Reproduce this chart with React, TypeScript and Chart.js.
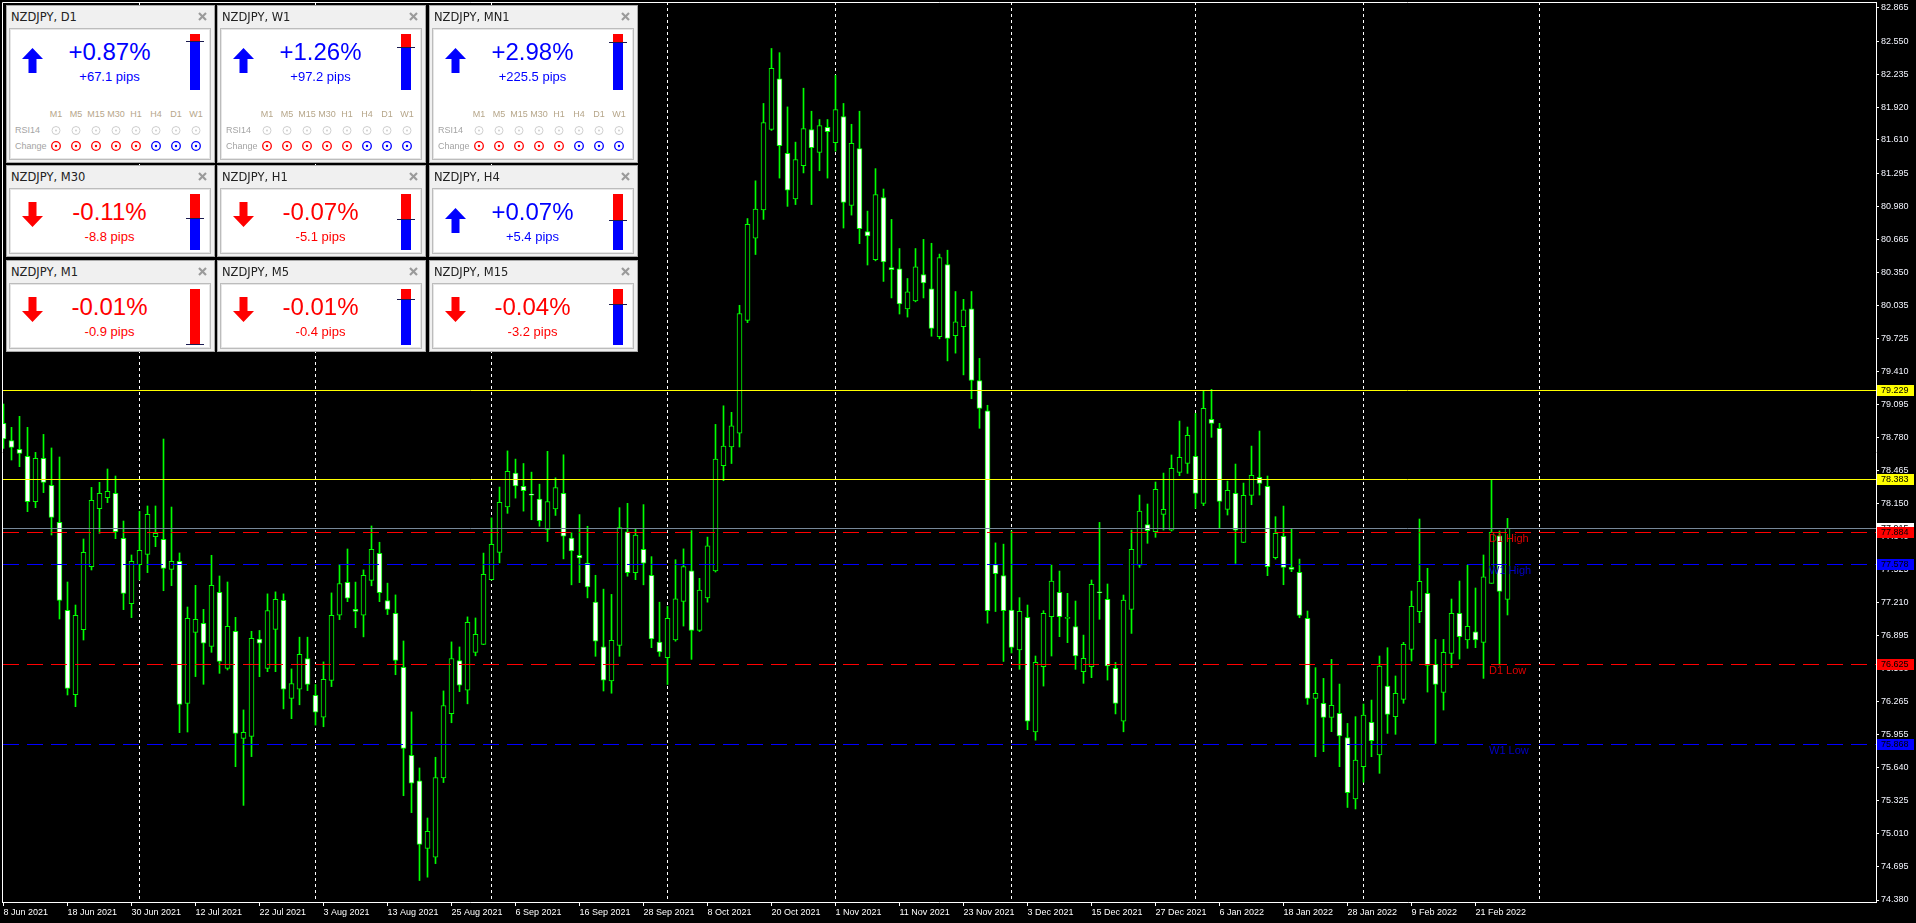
import React, { useEffect, useRef } from "react";
import { Chart, registerables } from "chart.js";
Chart.register(...registerables);

// ---------- DATA ----------
const xLabels = ["8 Jun 2021","18 Jun 2021","30 Jun 2021","12 Jul 2021","22 Jul 2021","3 Aug 2021","13 Aug 2021","25 Aug 2021","6 Sep 2021","16 Sep 2021","28 Sep 2021","8 Oct 2021","20 Oct 2021","1 Nov 2021","11 Nov 2021","23 Nov 2021","3 Dec 2021","15 Dec 2021","27 Dec 2021","6 Jan 2022","18 Jan 2022","28 Jan 2022","9 Feb 2022","21 Feb 2022"];
const xLabelBars = [0,8,16,24,32,40,48,56,64,72,80,88,96,104,112,120,128,136,144,152,160,168,176,184];
const monthStartBars = [17,39,61,83,104,126,149,170,192];

const opens = [78.914,78.749,78.667,78.600,78.169,78.581,78.324,77.972,77.135,76.333,
76.952,77.551,78.102,78.207,78.248,77.820,77.199,77.570,77.668,77.836,
77.811,77.525,77.602,76.251,76.926,77.012,76.793,77.307,76.584,76.936,
75.918,75.937,76.861,76.584,76.954,77.230,76.298,76.385,76.677,76.327,
76.118,76.468,77.089,77.401,77.144,77.089,77.420,77.677,77.227,77.108,
76.594,75.755,75.513,74.870,74.787,75.542,76.153,76.658,76.375,76.735,
76.812,77.427,77.687,78.120,78.442,78.314,78.236,78.194,77.906,78.100,
78.248,77.823,77.658,77.584,77.213,76.788,76.463,76.801,77.881,77.493,
77.716,77.469,76.834,76.685,76.854,77.221,77.510,76.945,77.254,77.510,
78.512,78.689,78.821,79.893,80.676,80.945,81.709,82.192,81.482,81.048,
81.366,81.709,81.490,81.730,81.585,81.833,80.986,81.527,80.739,80.470,
81.061,80.396,80.383,80.003,80.078,80.330,80.193,79.739,80.425,79.747,
79.834,80.003,79.322,79.033,77.570,77.467,77.138,76.758,77.069,75.980,
76.599,77.075,77.306,77.059,76.980,76.552,76.599,77.306,77.240,76.583,
76.080,77.145,77.566,77.950,77.883,78.048,77.899,78.448,78.533,78.600,
78.153,78.952,78.866,78.096,78.248,77.782,78.229,78.400,78.315,77.636,
77.839,77.544,77.497,77.059,76.298,76.250,76.117,76.155,75.924,75.341,
75.648,76.070,75.759,76.415,76.124,76.289,76.764,77.122,77.297,76.621,
76.355,76.726,77.107,76.853,76.932,76.831,77.392,77.845,77.240];

const highs = [79.098,78.876,78.981,78.876,78.638,78.809,78.680,78.594,77.405,77.186,
77.814,78.305,78.353,78.480,78.413,77.985,77.662,78.077,78.128,78.128,
78.765,78.118,77.681,77.167,77.373,77.145,77.659,77.462,77.405,77.069,
76.188,76.936,76.944,77.292,77.311,77.292,76.578,76.880,76.880,76.430,
76.645,77.301,77.571,77.719,77.404,77.520,77.938,77.783,77.394,77.282,
76.844,76.169,75.636,75.160,75.738,76.369,76.835,76.787,77.073,77.063,
77.680,78.015,78.308,78.652,78.574,78.532,78.450,78.335,78.648,78.396,
78.615,77.873,78.046,77.935,77.469,77.337,77.287,78.112,78.153,77.914,
78.141,77.646,77.213,77.172,77.617,77.720,77.893,77.440,77.832,78.904,
79.081,79.019,80.037,80.862,81.221,81.957,82.480,82.440,81.924,81.589,
82.102,81.883,81.804,81.804,82.225,81.957,81.759,81.883,80.933,81.337,
81.143,80.854,80.577,80.292,80.577,80.664,80.627,80.524,80.561,80.168,
80.094,80.168,79.532,79.086,77.777,77.765,77.890,77.256,77.186,76.701,
77.132,77.566,77.509,77.297,77.224,76.900,77.424,77.972,77.386,76.640,
77.281,77.899,78.232,78.147,78.356,78.441,78.613,78.936,78.879,79.009,
79.225,79.237,78.914,78.365,78.527,78.346,78.698,78.841,78.413,78.026,
78.127,77.906,77.623,77.129,76.590,76.488,76.669,76.434,76.060,76.124,
76.244,76.282,76.701,76.780,76.511,76.831,77.319,78.004,77.535,76.859,
76.859,77.243,77.414,77.566,77.348,77.662,78.381,77.890,78.010];

const lows = [78.676,78.565,78.502,78.074,78.112,78.255,77.852,77.053,76.330,76.219,
76.853,77.519,77.868,78.160,77.817,77.142,77.066,77.424,77.494,77.741,
77.322,77.370,75.972,75.978,76.505,76.432,76.736,76.536,76.568,75.648,
75.280,75.744,76.504,76.552,76.552,76.198,76.105,76.237,76.372,76.044,
76.028,76.410,77.047,77.218,76.970,76.883,77.369,77.218,77.095,76.523,
75.372,75.211,74.565,74.597,74.726,75.497,76.066,76.362,76.246,76.703,
76.809,77.423,77.587,78.058,78.203,78.079,77.997,77.935,77.790,78.038,
77.625,77.378,77.399,77.254,76.698,76.368,76.347,76.698,77.460,77.427,
77.378,76.780,76.698,76.430,76.842,76.986,76.669,76.933,77.213,77.500,
78.368,78.532,78.689,79.872,80.520,80.854,81.700,81.247,80.978,80.995,
81.296,80.995,81.317,81.247,81.503,80.772,80.895,80.623,80.420,80.460,
80.264,80.107,79.954,79.925,80.070,80.107,79.743,79.718,79.508,79.582,
79.375,79.148,78.867,77.013,77.124,76.649,76.730,76.574,76.000,75.900,
76.415,76.701,76.885,76.828,76.574,76.441,76.495,77.050,76.472,76.150,
75.980,76.916,77.544,77.773,77.830,77.899,77.890,78.416,78.438,78.105,
78.131,78.781,77.912,78.042,77.582,77.779,78.140,78.232,77.465,77.623,
77.379,77.503,77.065,76.241,75.743,75.791,75.981,75.648,75.260,75.246,
75.500,75.743,75.585,75.965,75.956,76.251,76.653,77.018,76.358,75.870,
76.187,76.590,76.672,76.774,76.780,76.488,77.392,76.615,77.091];

const closes = [78.765,78.686,78.629,78.169,78.581,78.353,78.020,77.230,76.393,77.088,
77.687,78.182,78.248,78.267,77.884,77.297,77.602,77.706,78.049,77.868,
77.535,77.602,76.241,77.059,77.050,76.822,77.373,76.650,76.983,75.965,
75.975,76.869,76.822,77.134,77.240,76.385,76.439,76.716,76.430,76.166,
76.478,77.089,77.391,77.250,77.124,77.468,77.716,77.304,77.144,76.658,
75.822,75.491,74.909,75.034,75.545,76.230,76.677,76.423,77.021,76.906,
77.478,77.764,78.163,78.458,78.318,78.273,78.232,77.988,78.170,78.302,
77.840,77.700,77.634,77.358,76.842,76.471,76.850,77.922,77.493,77.852,
77.584,76.863,76.739,77.060,77.246,77.551,76.945,77.329,77.749,78.574,
78.697,78.891,79.959,80.808,80.953,81.775,82.292,81.556,81.131,81.424,
81.717,81.536,81.746,81.689,81.899,81.015,81.577,80.767,80.697,81.090,
80.449,80.375,80.049,80.164,80.404,80.251,79.817,80.491,79.722,79.879,
79.995,79.322,79.057,77.133,77.484,77.133,76.783,77.126,76.080,76.641,
77.107,77.414,77.075,77.069,76.701,76.679,77.382,77.303,76.606,76.250,
77.233,77.716,78.080,77.893,78.286,78.096,78.486,78.590,78.800,78.248,
79.057,78.914,78.172,78.277,77.899,78.229,78.419,78.343,77.550,77.868,
77.544,77.525,77.088,76.298,76.346,76.117,76.232,75.940,75.400,75.712,
76.140,75.895,76.606,76.146,76.346,76.812,77.173,77.411,76.612,76.431,
76.736,77.107,76.885,76.983,76.853,77.455,77.877,77.316,77.915];

const yTickValues = [82.865,82.550,82.235,81.920,81.610,81.295,80.980,80.665,80.350,80.035,79.725,79.410,79.095,78.780,78.465,78.150,77.840,77.525,77.210,76.895,76.580,76.265,75.955,75.640,75.325,75.010,74.695,74.380];

const yellowLevels = [79.229, 78.383];
const bidPrice = 77.915;
const levelNames = ["D1 High", "W1 High", "D1 Low", "W1 Low"];
const levelValues = [77.884, 77.578, 76.625, 75.868];

const panelTf = ["D1","W1","MN1","M30","H1","H4","M1","M5","M15"];
const panelPct = ["+0.87%","+1.26%","+2.98%","-0.11%","-0.07%","+0.07%","-0.01%","-0.01%","-0.04%"];
const panelPips = ["+67.1 pips","+97.2 pips","+225.5 pips","-8.8 pips","-5.1 pips","+5.4 pips","-0.9 pips","-0.4 pips","-3.2 pips"];
const panelRedShare = [0.12,0.24,0.15,0.42,0.44,0.47,1.0,0.17,0.26];
const gridTfs = ["M1","M5","M15","M30","H1","H4","D1","W1"];
const changeUp = [false,false,false,false,false,true,true,true];

// ---------- LAYOUT ----------
const W = 1916, H = 923;
const Y_MIN = 74.361, Y_MAX = 82.922;
const X_MIN = -0.1875, X_MAX = 234.0625;
const panelColX = [6, 217, 429];
const panelRowY = [5, 165, 260];
const panelRowH = [158, 92, 92];
const PANEL_W = 209;
const gridColX = [49, 69, 89, 109, 129, 149, 169, 189];

const levelColor = (name: string) => (name.startsWith("D1") ? "#ff0000" : "#0000ff");
const levelTextColor = (name: string) => (name.startsWith("D1") ? "#e00000" : "#0000c8");

const zeroPadding = (s: any) => {
  s.paddingTop = 0;
  s.paddingBottom = 0;
  s.paddingLeft = 0;
  s.paddingRight = 0;
};

const overlayPlugin = {
  id: "mtOverlay",
  beforeDatasetsDraw(chart: any) {
    const { ctx, chartArea: a, scales } = chart;
    const x = scales.x;
    ctx.save();
    ctx.strokeStyle = "#ffffff";
    ctx.lineWidth = 1;
    ctx.setLineDash([3, 3]);
    for (const b of monthStartBars) {
      const px = Math.floor(x.getPixelForValue(b)) + 0.5;
      if (px > a.right) continue;
      ctx.beginPath();
      ctx.moveTo(px, a.top);
      ctx.lineTo(px, a.bottom);
      ctx.stroke();
    }
    ctx.restore();
  },
  afterDatasetsDraw(chart: any) {
    const { ctx, chartArea: a, scales } = chart;
    const y = scales.y;
    const py = (v: number) => Math.round(y.getPixelForValue(v)) + 0.5;
    ctx.save();
    ctx.lineWidth = 1;
    ctx.setLineDash([]);
    ctx.strokeStyle = "#ffff00";
    for (const v of yellowLevels) {
      ctx.beginPath(); ctx.moveTo(a.left, py(v)); ctx.lineTo(a.right, py(v)); ctx.stroke();
    }
    ctx.strokeStyle = "#778899";
    ctx.beginPath(); ctx.moveTo(a.left, py(bidPrice)); ctx.lineTo(a.right, py(bidPrice)); ctx.stroke();
    ctx.setLineDash([16, 8]);
    levelNames.forEach((n, i) => {
      ctx.strokeStyle = levelColor(n);
      ctx.beginPath(); ctx.moveTo(3, py(levelValues[i])); ctx.lineTo(a.right, py(levelValues[i])); ctx.stroke();
    });
    ctx.setLineDash([]);
    ctx.font = '11px "Liberation Sans", Arial, sans-serif';
    ctx.textBaseline = "top";
    ctx.textAlign = "left";
    levelNames.forEach((n, i) => {
      ctx.fillStyle = levelTextColor(n);
      ctx.fillText(n, 1489, py(levelValues[i]) + 1);
    });
    ctx.restore();
  },
  afterDraw(chart: any) {
    const { ctx, chartArea: a, scales } = chart;
    const y = scales.y;
    ctx.save();
    ctx.strokeStyle = "#ffffff";
    ctx.lineWidth = 1;
    ctx.beginPath();
    ctx.moveTo(a.left + 0.5, a.bottom); ctx.lineTo(a.left + 0.5, a.top + 0.5); ctx.lineTo(a.right, a.top + 0.5);
    ctx.stroke();
    const tags: [number, string, string][] = [
      [bidPrice, "#ffffff", "#000000"],
      [yellowLevels[0], "#ffff00", "#000000"],
      [yellowLevels[1], "#ffff00", "#000000"],
      [levelValues[0], "#ff0000", "#000000"],
      [levelValues[1], "#0000ff", "#000000"],
      [levelValues[2], "#ff0000", "#000000"],
      [levelValues[3], "#0000ff", "#000000"],
    ];
    ctx.font = '9px "Liberation Sans", Arial, sans-serif';
    ctx.textBaseline = "middle";
    ctx.textAlign = "left";
    for (const [v, bg, fg] of tags) {
      const p = Math.round(y.getPixelForValue(v));
      ctx.fillStyle = bg;
      ctx.fillRect(a.right + 1, p - 5, 37, 11);
      ctx.fillStyle = fg;
      ctx.fillText(v.toFixed(3), a.right + 5, p + 0.5);
    }
    ctx.restore();
  },
};

function CandleChart() {
  const ref = useRef<HTMLCanvasElement | null>(null);
  useEffect(() => {
    if (!ref.current) return;
    const idx = opens.map((_, i) => i);
    const chart = new Chart(ref.current, {
      type: "bar",
      data: {
        datasets: [
          {
            label: "wicks",
            data: idx.map((i) => ({ x: i, y: [lows[i], highs[i]] })) as any,
            backgroundColor: "#00ff00",
            borderWidth: 0,
            barThickness: 1,
            grouped: false,
            order: 2,
          } as any,
          {
            label: "bodies",
            data: idx.map((i) => ({ x: i, y: [opens[i], closes[i]] })) as any,
            backgroundColor: idx.map((i) => (closes[i] >= opens[i] ? "#000000" : "#ffffff")),
            borderColor: "#00ff00",
            borderWidth: 1,
            borderSkipped: false,
            barThickness: 5,
            minBarLength: 1,
            grouped: false,
            order: 1,
          } as any,
        ],
      },
      options: {
        responsive: false,
        devicePixelRatio: 1,
        animation: false,
        events: [],
        layout: { padding: { left: 2, top: 2, right: 0, bottom: 0 } },
        plugins: { legend: { display: false }, tooltip: { enabled: false } },
        scales: {
          x: {
            type: "linear",
            position: "bottom",
            min: X_MIN,
            max: X_MAX,
            offset: false,
            grid: { display: true, offset: false, drawOnChartArea: false, drawTicks: true, tickLength: 4, color: "#ffffff" },
            border: { display: true, color: "#ffffff" },
            afterBuildTicks: (s: any) => { s.ticks = xLabelBars.map((v) => ({ value: v })); },
            afterFit: (s: any) => { s.height = H - 902; zeroPadding(s); },
            ticks: {
              autoSkip: false,
              maxRotation: 0,
              minRotation: 0,
              align: "start",
              padding: 1,
              color: "#ffffff",
              font: { family: '"Liberation Sans", Arial, sans-serif', size: 9 },
              callback: (v: any) => { const k = xLabelBars.indexOf(Number(v)); return k >= 0 ? xLabels[k] : ""; },
            },
          } as any,
          y: {
            type: "linear",
            position: "right",
            min: Y_MIN,
            max: Y_MAX,
            grid: { display: true, drawOnChartArea: false, drawTicks: true, tickLength: 3, color: "#ffffff" },
            border: { display: true, color: "#ffffff" },
            afterBuildTicks: (s: any) => { s.ticks = yTickValues.map((v) => ({ value: v })); },
            afterFit: (s: any) => { s.width = W - 1876; zeroPadding(s); },
            ticks: {
              autoSkip: false,
              padding: 2,
              color: "#f4f6ff",
              font: { family: '"Liberation Sans", Arial, sans-serif', size: 9 },
              callback: (v: any) => Number(v).toFixed(3),
            },
          } as any,
        },
      },
      plugins: [overlayPlugin],
    });
    return () => chart.destroy();
  }, []);
  return <canvas ref={ref} width={W} height={H} style={{ position: "absolute", left: 0, top: 0, width: W, height: H }} />;
}

function Arrow({ up, color }: { up: boolean; color: string }) {
  const pts = up
    ? "10.5,0 21,11 14.5,11 14.5,25 6.5,25 6.5,11 0,11"
    : "10.5,25 21,14 14.5,14 14.5,0 6.5,0 6.5,14 0,14";
  return (
    <svg width={21} height={25} style={{ position: "absolute", left: 15, top: up ? 42 : 36 }}>
      <polygon points={pts} fill={color} />
    </svg>
  );
}

function InfoPanel({ i }: { i: number }) {
  const col = i % 3, row = Math.floor(i / 3);
  const left = panelColX[col], top = panelRowY[row], h = panelRowH[row];
  const up = panelPct[i].startsWith("+");
  const color = up ? "#0000ff" : "#ff0000";
  const barTop = 28, barH = 56;
  const redH = Math.round(barH * panelRedShare[i]);
  const numFont = '"Liberation Sans", Arial, sans-serif';
  return (
    <div style={{ position: "absolute", left, top, width: PANEL_W, height: h, boxSizing: "border-box", background: "#f0f0f0", border: "1px solid #a9a9a9" }}>
      <div style={{ position: "absolute", left: 4, top: 3, font: '11.5px "DejaVu Sans", Verdana, sans-serif', lineHeight: "16px", color: "#222222", whiteSpace: "nowrap" }}>
        {"NZDJPY, " + panelTf[i]}
      </div>
      <svg width={12} height={12} style={{ position: "absolute", left: 190, top: 5 }}>
        <line x1={2} y1={2} x2={9} y2={9} stroke="#9a9a9a" strokeWidth={2.2} />
        <line x1={9} y1={2} x2={2} y2={9} stroke="#9a9a9a" strokeWidth={2.2} />
      </svg>
      <div style={{ position: "absolute", left: 2, top: 22, width: 202, height: h - 26, boxSizing: "border-box", background: "#ffffff", border: "1px solid #bcbcbc", boxShadow: "inset 0 0 0 1px #e6e6e6" }} />
      <Arrow up={up} color={color} />
      <div style={{ position: "absolute", left: 2, top: 34, width: 201, textAlign: "center", font: `24px ${numFont}`, lineHeight: "24px", color, whiteSpace: "nowrap" }}>
        {panelPct[i]}
      </div>
      <div style={{ position: "absolute", left: 2, top: 64, width: 201, textAlign: "center", font: `13px ${numFont}`, lineHeight: "13px", color, whiteSpace: "nowrap" }}>
        {panelPips[i]}
      </div>
      <div style={{ position: "absolute", left: 183, top: barTop, width: 10, height: barH, background: "#0000ff" }} />
      <div style={{ position: "absolute", left: 183, top: barTop, width: 10, height: redH, background: "#ff0000" }} />
      <div style={{ position: "absolute", left: 179, top: barTop + redH - (redH >= barH ? 1 : 0), width: 18, height: 1, background: "#1a1a50" }} />
      {row === 0 && (
        <>
          {gridTfs.map((t, k) => (
            <div key={t} style={{ position: "absolute", left: gridColX[k] - 12, top: 102, width: 24, textAlign: "center", font: `9px ${numFont}`, lineHeight: "12px", color: "#b6a68a" }}>{t}</div>
          ))}
          <div style={{ position: "absolute", left: 8, top: 118, font: `9px ${numFont}`, lineHeight: "12px", color: "#a4a4a4" }}>RSI14</div>
          <div style={{ position: "absolute", left: 8, top: 134, font: `9px ${numFont}`, lineHeight: "12px", color: "#a4a4a4" }}>Change</div>
          <svg width={PANEL_W} height={h} style={{ position: "absolute", left: 0, top: 0 }}>
            {gridColX.map((cx, k) => (
              <g key={k}>
                <circle cx={cx} cy={124.5} r={4} fill="none" stroke="#cfcfcf" strokeWidth={1} />
                <circle cx={cx} cy={124.5} r={1} fill="#cfcfcf" />
                <circle cx={cx} cy={140} r={4.3} fill="none" stroke={changeUp[k] ? "#0000ff" : "#ff0000"} strokeWidth={1.3} />
                <circle cx={cx} cy={140} r={1.2} fill={changeUp[k] ? "#0000ff" : "#ff0000"} />
              </g>
            ))}
          </svg>
        </>
      )}
    </div>
  );
}

export default function App() {
  return (
    <div style={{ position: "fixed", left: 0, top: 0, width: W, height: H, background: "#000000", overflow: "hidden" }}>
      <CandleChart />
      {panelTf.map((_, i) => (
        <InfoPanel key={i} i={i} />
      ))}
    </div>
  );
}
